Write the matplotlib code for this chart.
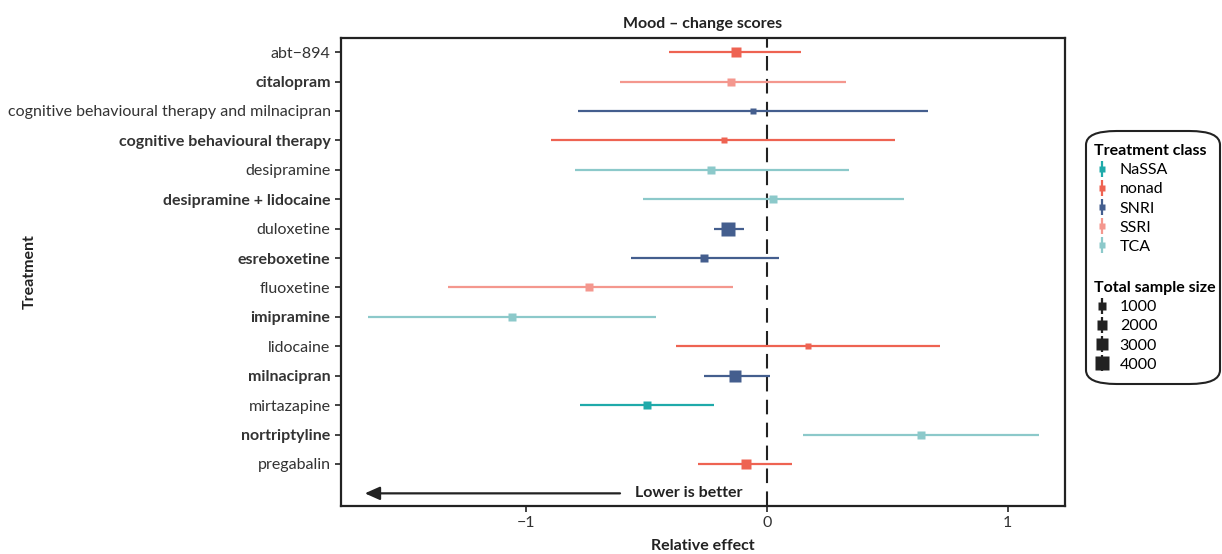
import matplotlib
matplotlib.use("Agg")
import matplotlib.pyplot as plt
from matplotlib.lines import Line2D
from matplotlib.patches import FancyBboxPatch
import numpy as np

plt.rcParams['font.family'] = ['Lato', 'DejaVu Sans']

treatments = ["abt\u2212894", "citalopram", "cognitive behavioural therapy and milnacipran",
              "cognitive behavioural therapy", "desipramine", "desipramine + lidocaine",
              "duloxetine", "esreboxetine", "fluoxetine", "imipramine", "lidocaine",
              "milnacipran", "mirtazapine", "nortriptyline", "pregabalin"]
classes = ["nonad", "SSRI", "SNRI", "nonad", "TCA", "TCA", "SNRI", "SNRI", "SSRI",
           "TCA", "nonad", "SNRI", "NaSSA", "TCA", "nonad"]
estimate = [-0.129, -0.148, -0.058, -0.179, -0.231, 0.023, -0.160, -0.262, -0.738,
            -1.060, 0.171, -0.131, -0.500, 0.642, -0.088]
lower = [-0.408, -0.610, -0.787, -0.896, -0.798, -0.515, -0.219, -0.567, -1.325,
         -1.658, -0.377, -0.260, -0.777, 0.150, -0.288]
upper = [0.140, 0.329, 0.669, 0.531, 0.340, 0.569, -0.096, 0.052, -0.142,
         -0.460, 0.721, 0.013, -0.221, 1.131, 0.102]
sample_size = [1700, 520, 240, 240, 520, 500, 6000, 700, 370, 370, 240, 2700, 520, 500, 1400]

class_names = ["NaSSA", "nonad", "SNRI", "SSRI", "TCA"]
class_colors = {"NaSSA": "#1FAAAA", "nonad": "#EE6352", "SNRI": "#445E8E",
                "SSRI": "#F4978E", "TCA": "#8CC9CA"}
size_breaks = [1000, 2000, 3000, 4000]


def msize(n):
    return 0.72 * (4.4 + 0.136 * np.sqrt(n))


FS = 11.5
W, H = 1222, 554
fig = plt.figure(figsize=(W / 100, H / 100), dpi=100)
ax = fig.add_axes([341 / W, 1 - 506 / H, (1065 - 341) / W, (506 - 38) / H])

ypos = np.arange(len(treatments))
for i, t in enumerate(treatments):
    c = class_colors[classes[i]]
    ax.plot([lower[i], upper[i]], [ypos[i], ypos[i]], color=c, lw=1.6,
            solid_capstyle='butt', zorder=3)
    ax.plot([estimate[i]], [ypos[i]], marker='s', color=c, ms=msize(sample_size[i]),
            mec='none', zorder=4)

ax.axvline(0, color='#222222', lw=1.5, ls=(0, (7, 4)), zorder=2)

ax.set_xlim(-1.771, 1.239)
ax.set_ylim(len(treatments) - 1 + 1.43, -0.48)
ax.set_yticks(ypos)
ax.set_yticklabels(treatments)
for i, lab in enumerate(ax.get_yticklabels()):
    if i % 2 == 1:
        lab.set_fontweight('bold')
ax.set_xticks([-1, 0, 1])
ax.set_xticklabels(["\u22121", "0", "1"])
ax.tick_params(axis='both', labelsize=FS, colors='#222222', labelcolor='#333333',
               length=4, width=1.2)
for s in ax.spines.values():
    s.set_linewidth(1.6)
    s.set_color('#222222')

ax.set_title("Mood \u2013 change scores", fontsize=FS, fontweight='bold', color='#222222', pad=7)
ax.set_xlabel("Relative effect", fontsize=FS, fontweight='bold', color='#222222', labelpad=6)
ax.set_ylabel("Treatment", fontsize=FS, fontweight='bold', color='#222222')
ax.yaxis.set_label_coords((37 - 341) / (1065 - 341), 0.5)

arrow_y = len(treatments)
ax.annotate("", xy=(-1.672, arrow_y), xytext=(-0.611, arrow_y),
            arrowprops=dict(arrowstyle='-|>,head_length=0.9,head_width=0.4',
                            color='#222222', lw=1.6, shrinkA=0, shrinkB=0))
ax.text(-0.549, arrow_y, "Lower is better", fontsize=FS, fontweight='bold',
        color='#222222', va='center', ha='left')

# legend box
box = FancyBboxPatch((1086 / W, 1 - 384 / H), (1220 - 1086) / W, (384 - 131) / H,
                     boxstyle="round,pad=0,rounding_size=0.025", transform=fig.transFigure,
                     fc='white', ec='#222222', lw=1.5)
fig.patches.append(box)

h1 = [(Line2D([], [], color=class_colors[c], marker='|', ls='none', ms=12, mew=1.6),
       Line2D([], [], color=class_colors[c], marker='s', ls='none', ms=5, mec='none'))
      for c in class_names]
leg1 = fig.legend(h1, class_names, loc='upper left', bbox_to_anchor=(1083 / W, 1 - 133 / H),
                  frameon=False, title="Treatment class", fontsize=FS,
                  handlelength=1.0, handletextpad=0.6, labelspacing=0.31, borderpad=0.2)
leg1.get_title().set_fontweight('bold')
leg1.get_title().set_fontsize(FS)
leg1._legend_box.align = "left"

h2 = [(Line2D([], [], color='#222222', marker='|', ls='none', ms=12, mew=1.6),
       Line2D([], [], color='#222222', marker='s', ls='none', ms=msize(n), mec='none'))
      for n in size_breaks]
leg2 = fig.legend(h2, [str(n) for n in size_breaks], loc='upper left',
                  bbox_to_anchor=(1083 / W, 1 - 270 / H),
                  frameon=False, title="Total sample size", fontsize=FS,
                  handlelength=1.0, handletextpad=0.6, labelspacing=0.31, borderpad=0.2)
leg2.get_title().set_fontweight('bold')
leg2.get_title().set_fontsize(FS)
leg2._legend_box.align = "left"

fig.savefig("out.png", dpi=100)
